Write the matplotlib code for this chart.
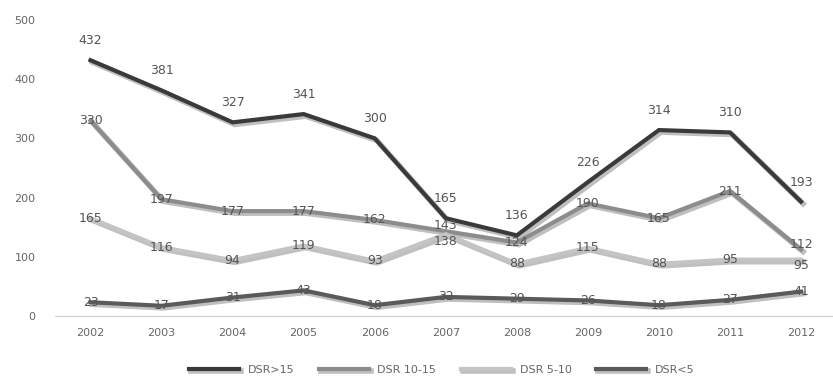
import matplotlib
matplotlib.use('Agg')
import matplotlib.pyplot as plt
import matplotlib.patheffects as pe
import numpy as np

years = ['2002', '2003', '2004', '2005', '2006', '2007', '2008', '2009', '2010', '2011', '2012']
dsr_15 = [432, 381, 327, 341, 300, 165, 136, 226, 314, 310, 193]
dsr_10_15 = [330, 197, 177, 177, 162, 143, 124, 190, 165, 211, 112]
dsr_5_10 = [165, 116, 94, 119, 93, 138, 88, 115, 88, 95, 95]
dsr_5 = [23, 17, 31, 43, 18, 32, 29, 26, 18, 27, 41]

series = [
    ('DSR>15', dsr_15, '#3a3a3a', 14),
    ('DSR 10-15', dsr_10_15, '#8c8c8c', 0),
    ('DSR 5-10', dsr_5_10, '#c4c4c4', 0),
    ('DSR<5', dsr_5, '#5a5a5a', 0),
]
# small nudges where labels crowd (series name, year index) -> points
nudge = {('DSR 10-15', 5): 4, ('DSR 5-10', 5): -5,
         ('DSR 10-15', 10): 4, ('DSR 5-10', 10): -4}

plt.rcParams['font.family'] = ['DejaVu Sans']

fig = plt.figure(figsize=(8.33, 3.81), dpi=100)
ax = fig.add_axes([0.066, 0.171, 0.934, 0.7765])
x = np.arange(len(years))

shadow = [pe.SimpleLineShadow(offset=(1.5, -1.5), shadow_color='#000000', alpha=0.25, linewidth=4), pe.Normal()]
for name, vals, col, dy in series:
    ax.plot(x, vals, color=col, lw=3, label=name, path_effects=shadow, solid_joinstyle='miter')
for name, vals, col, dy in series:
    for xi, v in zip(x, vals):
        off = dy + nudge.get((name, xi), 0)
        ax.annotate(str(v), (xi, v), xytext=(0, off), textcoords='offset points',
                    ha='center', va='center', fontsize=9, color='#555555')

ax.set_xlim(-0.5, 10.45)
ax.set_ylim(0, 500)
ax.set_yticks([0, 100, 200, 300, 400, 500])
ax.set_xticks(x)
ax.set_xticklabels(years)
ax.tick_params(axis='both', length=0, labelsize=8, colors='#666666')
ax.tick_params(axis='y', pad=14)
ax.tick_params(axis='x', pad=9)
for s in ['top', 'right', 'left']:
    ax.spines[s].set_visible(False)
ax.spines['bottom'].set_color('#d0d0d0')

leg = fig.legend(loc='lower center', ncol=4, frameon=False, fontsize=8,
                 bbox_to_anchor=(0.53, -0.01), handlelength=4.5, columnspacing=2.2)
for t in leg.get_texts():
    t.set_color('#666666')

fig.savefig('out.png', dpi=100)
